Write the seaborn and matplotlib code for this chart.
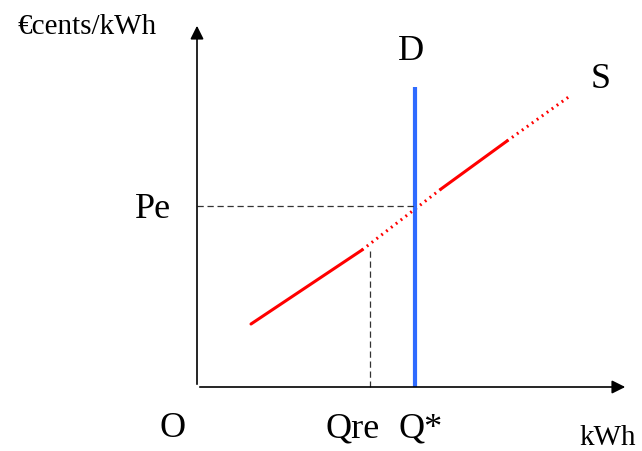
import pandas as pd
import seaborn as sns
import matplotlib.pyplot as plt

# точки кривой предложения (в пикселях картинки), сплошные и пунктирные куски
seg_x = [251, 362, 362, 441, 441, 507, 507, 570]
seg_y = [325, 251, 251, 190, 190, 142, 142, 97]
seg_id = ['a', 'a', 'b', 'b', 'c', 'c', 'd', 'd']
seg_kind = ['solid', 'solid', 'dot', 'dot', 'solid', 'solid', 'dot', 'dot']

# кривая спроса
d_x = [415, 415]
d_y = [388, 88]

# уровни Pe и Qre
pe_y = 207
q_star = 415
qre_x = 370
qre_y = 252

origin = (197, 388)

sns.set_style('white')
plt.rcParams['font.family'] = ['Liberation Serif', 'DejaVu Serif']
plt.rcParams['text.color'] = 'black'

fig = plt.figure(figsize=(6.42, 4.52), dpi=100)
ax = fig.add_axes([0, 0, 1, 1])
ax.set_xlim(0, 642)
ax.set_ylim(452, 0)
ax.axis('off')

data = pd.DataFrame({'x': seg_x, 'y': seg_y, 'seg': seg_id, 'kind': seg_kind})
sns.lineplot(data=data, x='x', y='y', units='seg', style='kind', estimator=None,
             sort=False, color='#ff0000', linewidth=2.2,
             dashes={'solid': '', 'dot': (0.6, 1.4)}, legend=False, ax=ax)

demand = pd.DataFrame({'x': d_x, 'y': d_y})
sns.lineplot(data=demand, x='x', y='y', estimator=None, sort=False,
             color='#2f6bff', linewidth=3, solid_capstyle='butt', ax=ax)

# пунктирные вспомогательные линии
ax.plot([origin[0], q_star], [pe_y, pe_y], color='#333333', lw=0.9, ls=(0, (5, 3)))
ax.plot([qre_x, qre_x], [qre_y, origin[1]], color='#333333', lw=0.9, ls=(0, (5, 3)))

# оси со стрелками
ax.annotate('', xy=(origin[0], 24), xytext=origin,
            arrowprops=dict(arrowstyle='-|>', color='black', lw=1.2, mutation_scale=20))
ax.annotate('', xy=(628, origin[1]), xytext=origin,
            arrowprops=dict(arrowstyle='-|>', color='black', lw=1.2, mutation_scale=20))

# подписи
ax.text(87, 27, '€cents/kWh', fontsize=21, ha='center', va='center')
ax.text(608, 438, 'kWh', fontsize=21, ha='center', va='center')
ax.text(411, 52, 'D', fontsize=26, ha='center', va='center')
ax.text(601, 80, 'S', fontsize=26, ha='center', va='center')
ax.text(153, 210, 'Pe', fontsize=26, ha='center', va='center')
ax.text(173, 429, 'O', fontsize=26, ha='center', va='center')
ax.text(353, 429, 'Qre', fontsize=26, ha='center', va='center')
ax.text(421, 429, 'Q*', fontsize=26, ha='center', va='center')

fig.savefig('out.png', dpi=100)
